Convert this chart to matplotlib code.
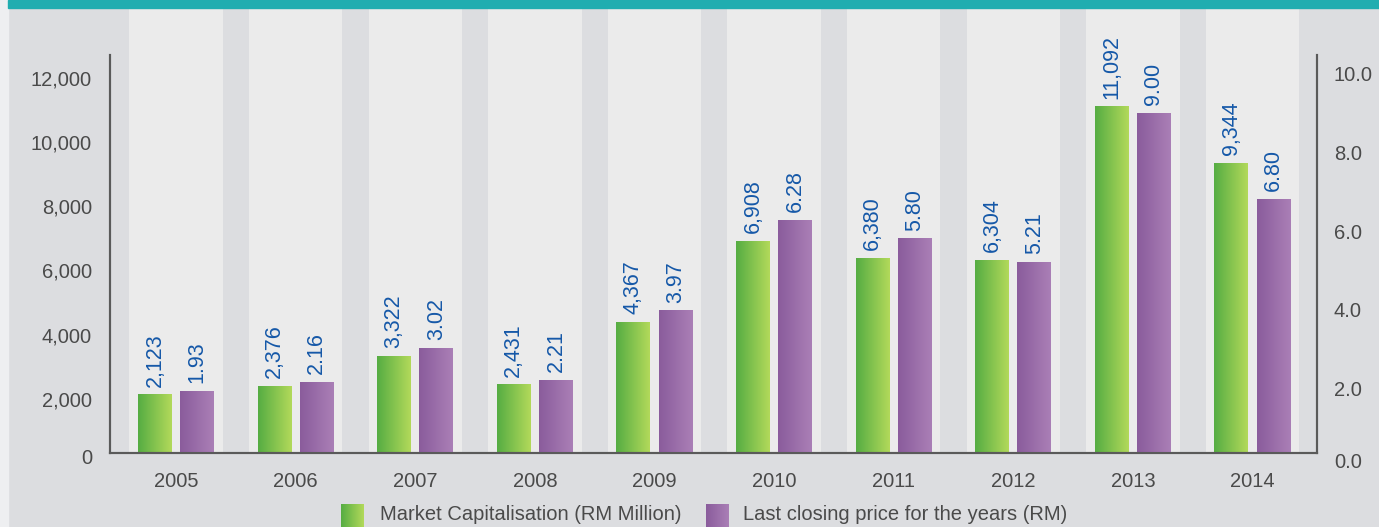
import numpy as np
import matplotlib
matplotlib.use('Agg')
import matplotlib.pyplot as plt
from matplotlib.colors import LinearSegmentedColormap
from matplotlib.patches import Rectangle

years = ['2005', '2006', '2007', '2008', '2009', '2010', '2011', '2012', '2013', '2014']
market_cap = [2123, 2376, 3322, 2431, 4367, 6908, 6380, 6304, 11092, 9344]
close_price = [1.93, 2.16, 3.02, 2.21, 3.97, 6.28, 5.80, 5.21, 9.00, 6.80]
left_ticks = [2000, 4000, 6000, 8000, 10000, 12000]
right_ticks = [2.0, 4.0, 6.0, 8.0, 10.0]

plt.rcParams['font.family'] = ['Liberation Sans Narrow', 'Liberation Sans', 'DejaVu Sans']
FS = 14.5

BG = '#dcdde0'
STRIPE = '#ebebeb'
TXT = '#4a4a4a'
BLUE = '#1558a8'
green = LinearSegmentedColormap.from_list('g', ['#56ad43', '#b2d95a'])
purple = LinearSegmentedColormap.from_list('p', ['#8a5c9c', '#aa7fb6'])

W, H = 1379, 527
fig = plt.figure(figsize=(W / 100, H / 100), dpi=100, facecolor=BG)

# page edge and top band
fig.patches.append(Rectangle((0, 0), 8 / W, 1, transform=fig.transFigure, color='#eeeff1', zorder=0))
fig.patches.append(Rectangle((8 / W, 1 - 8 / H), 1, 8 / H, transform=fig.transFigure, color='#20adb0', zorder=1))

ax = fig.add_axes([110 / W, (H - 453) / H, 1207 / W, 398 / H])
ax.patch.set_visible(False)
ax2 = ax.twinx()

x = np.arange(len(years))
bw = 0.284
off = 0.176

# light column stripes behind each year
for xi in x:
    ax.axvspan(xi - 0.39, xi + 0.39, ymin=0, ymax=(453 - 8) / 398, color=STRIPE,
               zorder=0, clip_on=False, lw=0)


def gradient_bars(a, xs, vals, cmap):
    bars = a.bar(xs, vals, bw, facecolor='none', edgecolor='none', zorder=2)
    g = np.linspace(0, 1, 64).reshape(1, -1)
    for b in bars:
        x0, w, h = b.get_x(), b.get_width(), b.get_height()
        a.imshow(g, cmap=cmap, extent=[x0, x0 + w, 0, h], aspect='auto', zorder=2)
    return bars


b1 = gradient_bars(ax, x - off, market_cap, green)
b2 = gradient_bars(ax2, x + off, close_price, purple)

for b, v in zip(b1, market_cap):
    ax.annotate(f'{v:,}', (b.get_x() + b.get_width() / 2, v), xytext=(0, 6),
                textcoords='offset points', rotation=90, ha='center', va='bottom',
                color=BLUE, fontsize=FS + 1)
for b, v in zip(b2, close_price):
    ax2.annotate(f'{v:.2f}', (b.get_x() + b.get_width() / 2, v), xytext=(0, 6),
                 textcoords='offset points', rotation=90, ha='center', va='bottom',
                 color=BLUE, fontsize=FS + 1)

ax.set_xlim(-0.552, 9.539)
ax.set_ylim(312, 12710)
ax2.set_ylim(0.356, 10.48)

ax.set_xticks(x)
ax.set_xticklabels(years)
ax.set_yticks(left_ticks)
ax.set_yticklabels([f'{t:,}' for t in left_ticks])
ax2.set_yticks(right_ticks)
ax2.set_yticklabels([f'{t:.1f}' for t in right_ticks])

ax.tick_params(axis='x', length=0, pad=14, labelsize=FS, labelcolor=TXT)
ax.tick_params(axis='y', length=0, pad=13, labelsize=FS, labelcolor=TXT)
ax2.tick_params(axis='y', length=0, pad=12, labelsize=FS, labelcolor=TXT)

# zero labels sit just below the (slightly raised) baseline
ax.text(-18 / 1207, -5 / 398, '0', transform=ax.transAxes, ha='right',
        va='center', fontsize=FS, color=TXT)
ax2.text(1 + 17 / 1207, -9 / 398, '0.0', transform=ax2.transAxes, ha='left',
         va='center', fontsize=FS, color=TXT)

for a in (ax, ax2):
    a.spines['top'].set_visible(False)
    for s in ('left', 'right', 'bottom'):
        a.spines[s].set_color('#5a5a5a')
        a.spines[s].set_linewidth(1.5)

# legend
items = [(341, green, 'Market Capitalisation (RM Million)', 380),
         (706, purple, 'Last closing price for the years (RM)', 743)]
for sx, cmap, label, tx in items:
    la = fig.add_axes([sx / W, -2 / H, 23 / W, 25 / H])
    la.imshow(np.linspace(0, 1, 64).reshape(1, -1), cmap=cmap, aspect='auto')
    la.axis('off')
    fig.text(tx / W, (H - 515) / H, label, ha='left', va='center', fontsize=FS, color=TXT)

fig.savefig('out.png', dpi=100, facecolor=BG)
